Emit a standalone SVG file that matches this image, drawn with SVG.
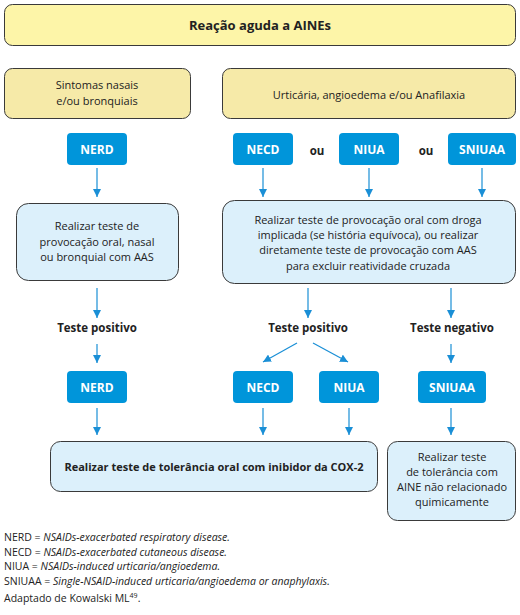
<svg xmlns="http://www.w3.org/2000/svg" width="520" height="615" viewBox="0 0 520 615">
<style>
text{font-family:"Open Sans","Noto Sans","Liberation Sans",sans-serif;fill:#222;}
.y1{fill:#fdf5a8;stroke:#3a3a3a;stroke-width:1;}
.y2{fill:#f6eaa8;stroke:#3a3a3a;stroke-width:1;}
.lb{fill:#dcf0fb;stroke:#3a3a3a;stroke-width:1;}
.bl{fill:#0095da;}
.bt{fill:#fff;font-weight:bold;font-size:12px;text-anchor:middle;}
.t{font-size:11px;text-anchor:middle;}
.b{font-size:11.5px;font-weight:bold;text-anchor:middle;}
.c line{stroke:#1a8fd6;stroke-width:1.2;}
.f{font-size:10.5px;}
</style>
<defs>
<marker id="ah" viewBox="0 0 10 10" refX="10" refY="5" markerWidth="8" markerHeight="8" markerUnits="userSpaceOnUse" orient="auto">
<path d="M0,0 L10,5 L0,10 Z" fill="#1a8fd6"/>
</marker>
</defs>

<g id="top"><rect class="y1" x="4.5" y="4.5" width="511" height="41" rx="8"/><text class="b" x="260" y="30" style="font-size:13px">Reação aguda a AINEs</text></g>
<g id="nasal"><rect class="y2" x="4.5" y="68.5" width="186" height="50" rx="8"/><text class="t" x="97" y="89">Sintomas nasais</text><text class="t" x="97" y="105">e/ou bronquiais</text></g>
<g id="urt"><rect class="y2" x="222.5" y="68.5" width="293" height="50" rx="8"/><text class="t" x="369" y="99">Urticária, angioedema e/ou Anafilaxia</text></g>

<g id="nerd1"><rect class="bl" x="67" y="133" width="60" height="32" rx="4"/><text class="bt" x="97" y="153.5">NERD</text></g>
<g id="necd1"><rect class="bl" x="233" y="133" width="60" height="32" rx="4"/><text class="bt" x="263" y="153.5">NECD</text></g>
<g id="ou1"><text class="b" x="317" y="155">ou</text></g>
<g id="niua1"><rect class="bl" x="339" y="133" width="60" height="32" rx="4"/><text class="bt" x="369" y="153.5">NIUA</text></g>
<g id="ou2"><text class="b" x="426" y="155">ou</text></g>
<g id="sniuaa1"><rect class="bl" x="448" y="133" width="68" height="32" rx="4"/><text class="bt" x="482" y="153.5">SNIUAA</text></g>

<g id="prov1"><rect class="lb" x="16.5" y="203.5" width="162" height="77" rx="12"/>
<text class="t" x="97" y="230">Realizar teste de</text><text class="t" x="97" y="245.5">provocação oral,  nasal</text><text class="t" x="97" y="261">ou bronquial com AAS</text></g>
<g id="prov2"><rect class="lb" x="222.5" y="200.5" width="293" height="83" rx="12"/>
<text class="t" x="368" y="224">Realizar teste de provocação oral com droga</text>
<text class="t" x="368" y="238.5">implicada (se história equívoca), ou realizar</text>
<text class="t" x="368" y="253.5">diretamente teste de provocação com AAS</text>
<text class="t" x="368" y="270">para excluir reatividade cruzada</text></g>

<g id="pos1"><text class="b" x="97" y="332">Teste positivo</text></g>
<g id="pos2"><text class="b" x="308" y="332">Teste positivo</text></g>
<g id="neg"><text class="b" x="452" y="332">Teste negativo</text></g>

<g id="nerd2"><rect class="bl" x="67" y="371" width="60" height="32" rx="4"/><text class="bt" x="97" y="391.5">NERD</text></g>
<g id="necd2"><rect class="bl" x="233" y="371" width="60" height="32" rx="4"/><text class="bt" x="263" y="391.5">NECD</text></g>
<g id="niua2"><rect class="bl" x="319" y="371" width="60" height="32" rx="4"/><text class="bt" x="349" y="391.5">NIUA</text></g>
<g id="sniuaa2"><rect class="bl" x="418" y="371" width="68" height="32" rx="4"/><text class="bt" x="452" y="391.5">SNIUAA</text></g>

<g id="cox"><rect class="lb" x="50.5" y="441.5" width="327" height="50" rx="10"/><text class="b" x="214" y="471" style="font-size:11px">Realizar teste de tolerância oral com inibidor da COX-2</text></g>
<g id="aine"><rect class="lb" x="387.5" y="441.5" width="128" height="79" rx="10"/>
<text class="t" x="452" y="461">Realizar teste</text><text class="t" x="452" y="476">de tolerância com</text><text class="t" x="452" y="491">AINE não relacionado</text><text class="t" x="452" y="506">quimicamente</text></g>

<g class="c" id="connectors">
<line x1="97" y1="168" x2="97" y2="197" marker-end="url(#ah)"/>
<line x1="263" y1="168" x2="263" y2="197" marker-end="url(#ah)"/>
<line x1="369" y1="168" x2="369" y2="197" marker-end="url(#ah)"/>
<line x1="482" y1="168" x2="482" y2="197" marker-end="url(#ah)"/>
<line x1="97" y1="288" x2="97" y2="318" marker-end="url(#ah)"/>
<line x1="308" y1="288" x2="308" y2="318" marker-end="url(#ah)"/>
<line x1="451" y1="288" x2="451" y2="318" marker-end="url(#ah)"/>
<line x1="97" y1="344" x2="97" y2="363" marker-end="url(#ah)"/>
<line x1="297" y1="343" x2="263" y2="362" marker-end="url(#ah)"/>
<line x1="313" y1="343" x2="348" y2="362" marker-end="url(#ah)"/>
<line x1="451" y1="344" x2="451" y2="363" marker-end="url(#ah)"/>
<line x1="97" y1="408" x2="97" y2="435" marker-end="url(#ah)"/>
<line x1="263" y1="408" x2="263" y2="435" marker-end="url(#ah)"/>
<line x1="349" y1="408" x2="349" y2="435" marker-end="url(#ah)"/>
<line x1="451" y1="408" x2="451" y2="435" marker-end="url(#ah)"/>
</g>

<g id="notes">
<text class="f" x="4" y="541">NERD = <tspan font-style="italic">NSAIDs-exacerbated respiratory disease.</tspan></text>
<text class="f" x="4" y="556">NECD = <tspan font-style="italic">NSAIDs-exacerbated cutaneous disease.</tspan></text>
<text class="f" x="4" y="570">NIUA = <tspan font-style="italic">NSAIDs-induced urticaria/angioedema.</tspan></text>
<text class="f" x="4" y="585">SNIUAA = <tspan font-style="italic">Single-NSAID-induced urticaria/angioedema or anaphylaxis.</tspan></text>
<text class="f" x="4" y="602">Adaptado de Kowalski ML<tspan font-size="7" dy="-4">49</tspan><tspan dy="4">.</tspan></text>
</g>
</svg>
